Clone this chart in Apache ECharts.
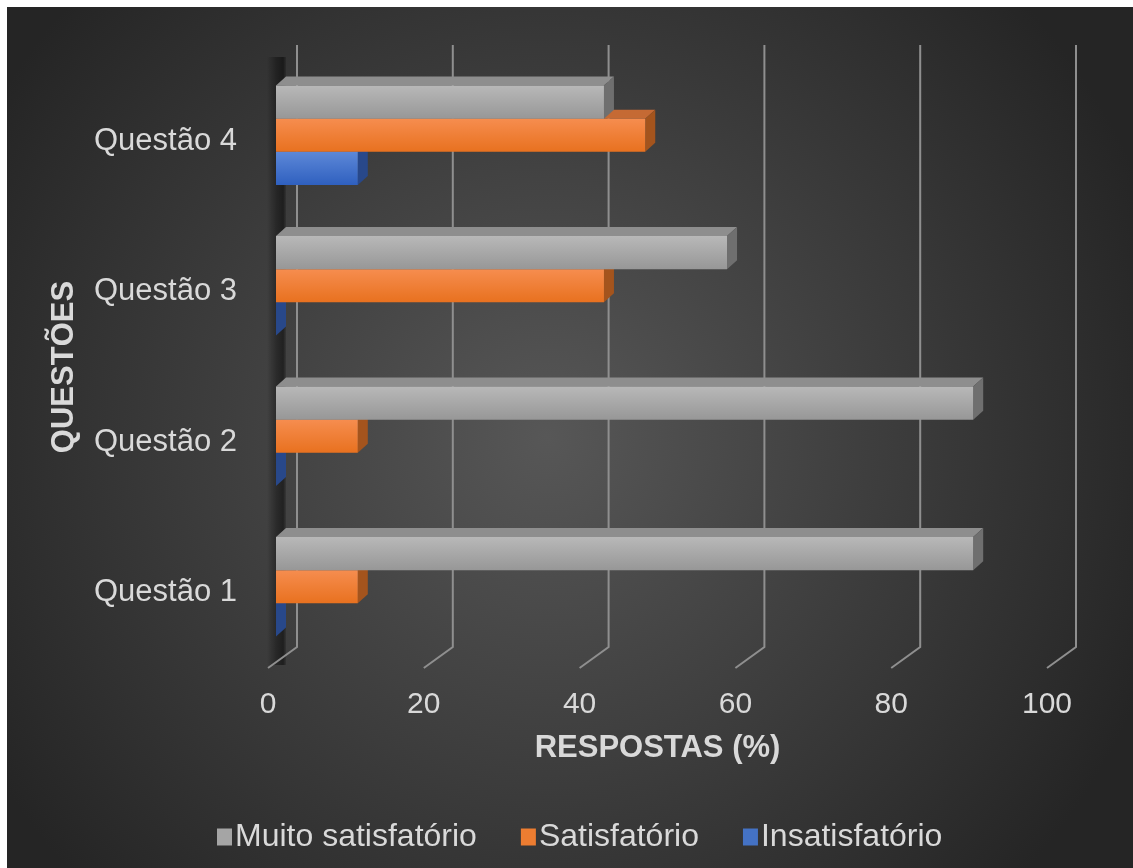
<!DOCTYPE html>
<html>
<head>
<meta charset="utf-8">
<script src="https://cdn.jsdelivr.net/npm/echarts@6/dist/echarts.min.js"></script>
<style>
  html, body { margin: 0; padding: 0; background: #ffffff; }
  #chartDom { position: absolute; left: 7px; top: 7px; width: 1126px; height: 861px; }
</style>
</head>
<body>
<div id="chartDom"></div>
<script>
// dados (respostas em %)
const questoes = ['Questão 1', 'Questão 2', 'Questão 3', 'Questão 4'];
const muitoSatisfatorio = [89.5, 89.5, 57.9, 42.1];
const satisfatorio = [10.5, 10.5, 42.1, 47.4];
const insatisfatorio = [0, 0, 0, 10.5];
const ticksX = [0, 20, 40, 60, 80, 100];

const FONT = "'Liberation Sans', Arial, sans-serif";
const TXT = '#d9d9d9';

// cores das faces: frente (topo, base), tampa, lado
const cores = [
  { front: ['#b8b8b8', '#979797'], top: '#8e8e8e', side: '#6f6f6f', legend: '#a5a5a5' },
  { front: ['#f68d4f', '#e8711f'], top: '#c56a34', side: '#a4541d', legend: '#ed7d31' },
  { front: ['#5d88d8', '#2f60bf'], top: '#3b5fa3', side: '#28488a', legend: '#4472c4' }
];

// profundidade 3D em px
const BAR_DX = 10, BAR_DY = -9;   // profundidade da barra
const OFF_X = 8, OFF_Y = -6;      // barra recuada do plano da frente
const WALL_DX = 29, WALL_DY = -21; // parede do fundo

function barRender(slot) {
  return function (params, api) {
    const v = api.value(0);
    const cat = api.value(1);
    const p0 = api.coord([0, cat]);
    const p1 = api.coord([v, cat]);
    const band = api.size([0, 1])[1];
    const h = band * 0.22;
    const yc = p0[1] + (slot - 1) * h + OFF_Y;
    const x0 = p0[0] + OFF_X, x1 = p1[0] + OFF_X;
    const y0 = yc - h / 2, y1 = yc + h / 2;
    const c = cores[slot];
    const children = [
      {
        type: 'polygon',
        shape: { points: [[x0, y0], [x0 + BAR_DX, y0 + BAR_DY], [x1 + BAR_DX, y0 + BAR_DY], [x1, y0]] },
        style: { fill: c.top }
      },
      {
        type: 'polygon',
        shape: { points: [[x1, y0], [x1 + BAR_DX, y0 + BAR_DY], [x1 + BAR_DX, y1 + BAR_DY], [x1, y1]] },
        style: { fill: c.side }
      }
    ];
    if (x1 - x0 > 0.5) {
      children.push({
        type: 'rect',
        shape: { x: x0, y: y0, width: x1 - x0, height: h },
        style: {
          fill: new echarts.graphic.LinearGradient(0, 0, 0, 1, [
            { offset: 0, color: c.front[0] },
            { offset: 1, color: c.front[1] }
          ])
        }
      });
    }
    return { type: 'group', children: children };
  };
}

function gridRender(params, api) {
  const cs = params.coordSys;
  const xf = api.coord([api.value(0), 0])[0];
  const bottom = cs.y + cs.height;
  const top = cs.y;
  return {
    type: 'polyline',
    shape: { points: [[xf + WALL_DX, top + WALL_DY], [xf + WALL_DX, bottom + WALL_DY], [xf, bottom]] },
    style: { stroke: '#8f8f8f', lineWidth: 2, fill: null }
  };
}

const chart = echarts.init(document.getElementById('chartDom'));
chart.setOption({
  backgroundColor: {
    type: 'radial', x: 0.48, y: 0.5, r: 0.75,
    colorStops: [
      { offset: 0, color: '#575757' },
      { offset: 1, color: '#252525' }
    ]
  },
  animation: false,
  grid: { left: 261, right: 86, top: 59, bottom: 200 },
  legend: {
    left: 205, top: 809,
    icon: 'rect', itemWidth: 15, itemHeight: 17, itemGap: 44,
    textStyle: { color: TXT, fontSize: 32, fontFamily: FONT, padding: [0, 0, 0, -2] },
    data: [
      { name: 'Muito satisfatório', itemStyle: { color: cores[0].legend } },
      { name: 'Satisfatório', itemStyle: { color: cores[1].legend } },
      { name: 'Insatisfatório', itemStyle: { color: cores[2].legend } }
    ]
  },
  xAxis: {
    type: 'value', min: 0, max: 100, interval: 20,
    name: 'RESPOSTAS (%)', nameLocation: 'middle', nameGap: 65,
    nameTextStyle: { color: TXT, fontSize: 31, fontWeight: 'bold', fontFamily: FONT },
    axisLine: { show: false }, axisTick: { show: false }, splitLine: { show: false },
    axisLabel: { color: TXT, fontSize: 30, fontFamily: FONT, margin: 22 }
  },
  yAxis: {
    type: 'category', data: questoes,
    name: 'QUESTÕES', nameLocation: 'middle', nameGap: 188,
    nameTextStyle: { color: TXT, fontSize: 31, fontWeight: 'bold', fontFamily: FONT },
    axisLine: { show: false }, axisTick: { show: false }, splitLine: { show: false },
    axisLabel: { color: TXT, fontSize: 31, fontFamily: FONT, margin: 31 }
  },
  graphic: [{
    type: 'rect', z: -1,
    shape: { x: 260, y: 50, width: 19, height: 608 },
    style: {
      fill: new echarts.graphic.LinearGradient(0, 0, 1, 0, [
        { offset: 0, color: 'rgba(0,0,0,0)' },
        { offset: 0.5, color: 'rgba(0,0,0,0.35)' },
        { offset: 0.85, color: 'rgba(0,0,0,0.5)' },
        { offset: 1, color: 'rgba(0,0,0,0.15)' }
      ])
    }
  }],
  series: [
    {
      name: 'grade', type: 'custom', z: 1, silent: true,
      renderItem: gridRender,
      data: ticksX.map(function (t) { return [t, 0]; })
    },
    {
      name: 'Muito satisfatório', type: 'custom', z: 5,
      itemStyle: { color: cores[0].legend },
      renderItem: barRender(0), encode: { x: 0, y: 1 },
      data: muitoSatisfatorio.map(function (v, i) { return [v, i]; })
    },
    {
      name: 'Satisfatório', type: 'custom', z: 4,
      itemStyle: { color: cores[1].legend },
      renderItem: barRender(1), encode: { x: 0, y: 1 },
      data: satisfatorio.map(function (v, i) { return [v, i]; })
    },
    {
      name: 'Insatisfatório', type: 'custom', z: 3,
      itemStyle: { color: cores[2].legend },
      renderItem: barRender(2), encode: { x: 0, y: 1 },
      data: insatisfatorio.map(function (v, i) { return [v, i]; })
    }
  ]
});
</script>
</body>
</html>
